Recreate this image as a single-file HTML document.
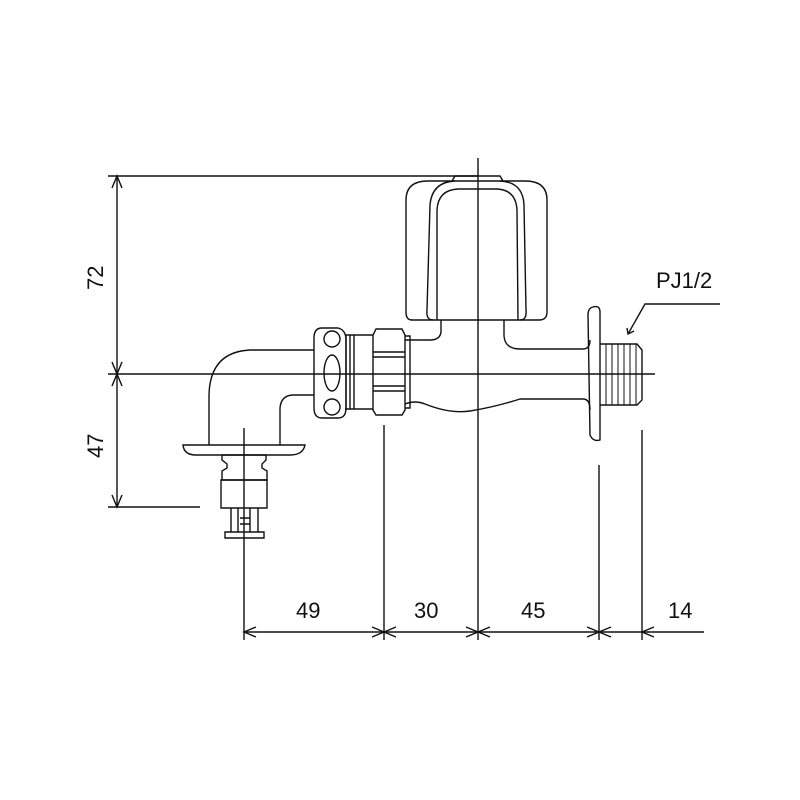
<!DOCTYPE html>
<html><head><meta charset="utf-8"><style>
html,body{margin:0;padding:0;background:#fff;}
svg{display:block;}
text{font-family:"Liberation Sans",sans-serif;font-size:22px;fill:#111;}
</style></head><body>
<svg width="800" height="800" viewBox="0 0 800 800" xmlns="http://www.w3.org/2000/svg" fill="none" stroke="#111" stroke-width="1.4">
<!-- dimension lines -->
<line x1="108" y1="176" x2="478" y2="176"/>
<line x1="108" y1="374" x2="655" y2="374"/>
<line x1="108" y1="507" x2="200" y2="507"/>
<line x1="117" y1="176" x2="117" y2="507"/>
<path d="M112 188 L117 176 L122 188 M112 362 L117 374 L122 362 M112 386 L117 374 L122 386 M112 495 L117 507 L122 495"/>
<line x1="478" y1="158" x2="478" y2="640"/>
<line x1="244" y1="428" x2="244" y2="640"/>
<line x1="384" y1="425" x2="384" y2="640"/>
<line x1="599" y1="465" x2="599" y2="640"/>
<line x1="642" y1="430" x2="642" y2="640"/>
<line x1="244" y1="632" x2="704" y2="632"/>
<path d="M256 627 L244 632 L256 637 M372 627 L384 632 L372 637 M396 627 L384 632 L396 637 M466 627 L478 632 L466 637 M490 627 L478 632 L490 637 M587 627 L599 632 L587 637 M611 627 L599 632 L611 637 M654 627 L642 632 L654 637"/>
<g stroke="none">
<text x="296" y="618">49</text>
<text x="414" y="618">30</text>
<text x="521" y="618">45</text>
<text x="668" y="618">14</text>
<text x="656" y="288">PJ1/2</text>
<text transform="translate(103,290) rotate(-90)">72</text>
<text transform="translate(103,458) rotate(-90)">47</text>
</g>
<!-- leader -->
<path d="M720 304 L645 304 L628 334"/>
<path d="M627 328 L628 334 L634 331"/>
<!-- knob -->
<path d="M406 200 Q406 181 428 181 L525 181 Q547 181 547 200 L547 312 Q547 320 539 320 L412 320 Q406 320 406 312 Z"/>
<path d="M452 181 L455 176 L500 176 L503 181"/>
<path d="M433 320 Q426 320 427 310 L430 205 Q432 182 455 181"/>
<path d="M500 181 Q523 182 524 205 L526 310 Q527 320 520 320"/>
<path d="M437 320 L437 210 Q438 190 458 189 L497 189 Q516 190 517 210 L518 320"/>
<!-- stem and body -->
<path d="M441 320 L441 332 Q440 340 430 340 L423 340"/>
<path d="M504 320 L504 336 Q505 349 520 349 L583 349 Q590 349 590 340"/>
<path d="M405 340 L423 340"/>
<path d="M405 404 Q415 400 425 404 Q450 414 470 411 Q495 407 520 399 L583 399 Q590 399 590 410"/>
<!-- flange -->
<path d="M593 307 Q600 305 600 312 L600 440 Q593 442 590 435 L588 315 Q588 308 593 307 Z"/>
<!-- thread -->
<path d="M600 344 L637 344 L642 350 L642 400 L637 405 L600 405"/>
<path d="M606 344 V405 M612 344 V405 M618 344 V405 M624 344 V405 M630 344 V405 M636 344 V405" stroke-width="1"/>
<!-- hex nut -->
<path d="M376 329 L402 329 L405 335 L405 410 L402 415 L376 415 L373 410 L373 335 Z"/>
<path d="M373 352 L405 352 M373 357 L405 357 M373 386 L405 386 M373 391 L405 391"/>
<path d="M405 336 L410 336 L410 408 L405 408"/>
<!-- ring -->
<path d="M345 335 L373 335 M345 409 L373 409 M346 335 V409 M350 335 V409 M354 335 V409"/>
<!-- oval nut -->
<path d="M322 328 L338 328 Q346 330 346 340 L346 408 Q346 418 338 418 L322 418 Q314 418 314 408 L314 338 Q314 328 322 328 Z"/>
<circle cx="332" cy="339" r="8"/>
<circle cx="332" cy="407" r="8"/>
<ellipse cx="332" cy="373" rx="8" ry="18"/>
<!-- elbow -->
<path d="M314 350 L250 350 Q210 352 209 395 L209 445"/>
<path d="M314 395 L292 395 Q281 396 280 408 L280 445"/>
<!-- plate -->
<path d="M183 445 L305 445 Q303 455 290 455 L196 455 Q184 455 183 445 Z"/>
<!-- adapter -->
<path d="M222 455 L266 455 L266 460 L262 464 L262 468 L267 471 L267 480 L222 480 L222 471 L227 468 L227 464 L222 460 Z"/>
<path d="M221 480 L267 480 L267 508 L221 508 Z"/>
<path d="M231 508 L231 532 M258 508 L258 532 M238 508 V532 M250 508 V532"/>
<path d="M225 532 L264 532 L264 538 L225 538 Z"/>
<path d="M240 518 L250 518 M240 524 L250 524"/>
</svg>
</body></html>
